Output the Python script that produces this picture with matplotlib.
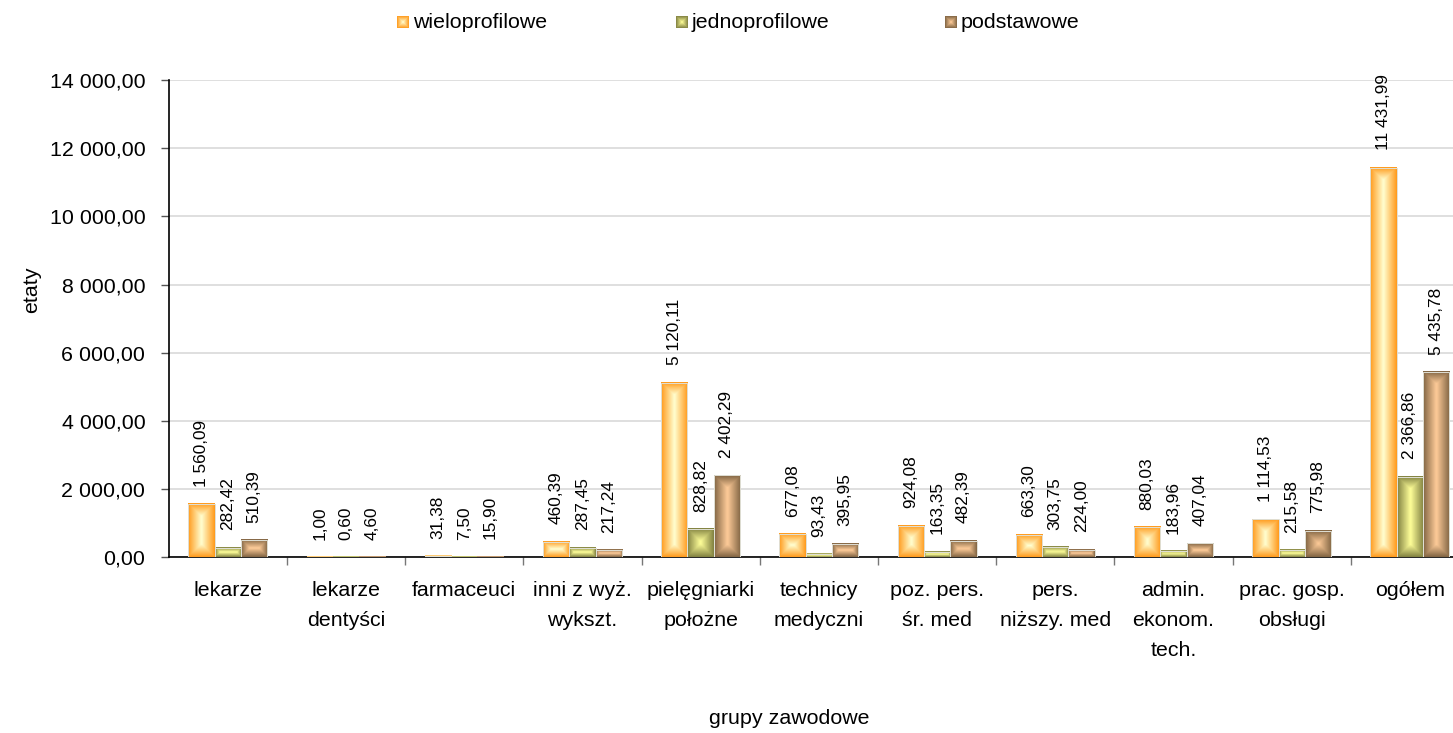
import numpy as np
import matplotlib
matplotlib.use("Agg")
import matplotlib.pyplot as plt
from matplotlib.patches import Rectangle

plt.rcParams['font.family'] = ['Liberation Sans', 'DejaVu Sans']

# grupy zawodowe i etaty
categories = ["lekarze", "lekarze\ndentyści", "farmaceuci", "inni z wyż.\nwykszt.",
              "pielęgniarki\npołożne", "technicy\nmedyczni", "poz. pers.\nśr. med",
              "pers.\nniższy. med", "admin.\nekonom.\ntech.", "prac. gosp.\nobsługi",
              "ogółem"]
wieloprofilowe = [1560.09, 1.00, 31.38, 460.39, 5120.11, 677.08, 924.08, 663.30,
                  880.03, 1114.53, 11431.99]
jednoprofilowe = [282.42, 0.60, 7.50, 287.45, 828.82, 93.43, 163.35, 303.75,
                  183.96, 215.58, 2366.86]
podstawowe = [510.39, 4.60, 15.90, 217.24, 2402.29, 395.95, 482.39, 224.00,
              407.04, 775.98, 5435.78]
series_names = ["wieloprofilowe", "jednoprofilowe", "podstawowe"]
yticks = [0, 2000, 4000, 6000, 8000, 10000, 12000, 14000]

# kolory: brzeg -> środek słupka
edge_cols = [(1.0, 0.60, 0.10), (0.50, 0.50, 0.25), (0.50, 0.39, 0.26)]
center_cols = [(1.0, 1.0, 0.82), (1.0, 1.0, 0.60), (1.0, 0.80, 0.60)]

FS = 15.4      # opisy osi, legenda
FS_LAB = 12.4  # etykiety wartości


def fmt(v):
    s = f"{v:,.2f}"
    return s.replace(",", " ").replace(".", ",")


def gradient(wpx, hpx, c_edge, c_center):
    nx = max(int(round(wpx)), 2)
    ny = max(int(round(hpx)), 2)
    x = np.arange(nx) + 0.5
    y = np.arange(ny) + 0.5
    dx = np.minimum(x, nx - x)
    dy = np.minimum(y, ny - y)
    d = np.minimum(dx[None, :], dy[:, None])
    t = np.clip(d / (min(nx, ny) / 2.0), 0, 1)
    e = np.array(c_edge)
    c = np.array(c_center)
    return e + (c - e) * t[..., None]


W, H = 1453, 733
fig = plt.figure(figsize=(W / 100, H / 100), dpi=100)
x_left, x_right = 168.7, 1469.0
y_top, y_zero = 80.0, 557.3
ax = fig.add_axes([x_left / W, (H - y_zero) / H, (x_right - x_left) / W, (y_zero - y_top) / H])

n = len(categories)
px_per_cat = (x_right - x_left) / n
px_per_val = (y_zero - y_top) / 14000

bw = 0.2225
data = [wieloprofilowe, jednoprofilowe, podstawowe]
for k, vals in enumerate(data):
    for i, v in enumerate(vals):
        x0 = i + 0.5 - 1.5 * bw + k * bw
        img = gradient(bw * px_per_cat, v * px_per_val, edge_cols[k], center_cols[k])
        ax.imshow(img, extent=[x0, x0 + bw, 0, v], aspect='auto', origin='lower',
                  interpolation='bilinear', zorder=3)
        ax.add_patch(Rectangle((x0, 0), bw, v, facecolor='none',
                               edgecolor=(0.88, 0.88, 0.84), lw=0.7, zorder=4))
        ax.annotate(fmt(v), (x0 + bw / 2, v), xytext=(0, 12.5), textcoords='offset points',
                    rotation=90, ha='center', va='bottom', fontsize=FS_LAB, zorder=5)

ax.set_xlim(0, n)
ax.set_ylim(0, 14000)

# siatka i osie
ax.set_yticks(yticks)
ax.set_yticklabels([fmt(v) for v in yticks], fontsize=FS)
ax.yaxis.grid(True, color='#d9d9d9', lw=1.2, zorder=0)
ax.set_axisbelow(True)
ax.tick_params(axis='y', direction='out', length=5.8, width=1, color='#555555', pad=11)

ax.set_xticks(np.arange(1, n))
ax.set_xticklabels([])
ax.set_xticks(np.arange(n) + 0.5, minor=True)
ax.set_xticklabels(categories, minor=True, fontsize=FS, linespacing=1.72, va='top')
ax.tick_params(axis='x', which='major', direction='out', length=6, width=1, color='#777777')
ax.tick_params(axis='x', which='minor', length=0, pad=17)

for s in ['top', 'right']:
    ax.spines[s].set_visible(False)
ax.spines['left'].set_linewidth(1.2)
ax.spines['bottom'].set_linewidth(1.2)

fig.text(32 / W, 1 - 290 / H, "etaty", rotation=90, ha='center', va='center', fontsize=FS)
fig.text(789 / W, 1 - 718 / H, "grupy zawodowe", ha='center', va='center', fontsize=FS)

# legenda
leg_x = [397, 676, 945]
for k, name in enumerate(series_names):
    lax = fig.add_axes([leg_x[k] / W, 1 - 28 / H, 12 / W, 12 / H])
    lax.imshow(gradient(12, 12, edge_cols[k], center_cols[k]), interpolation='bilinear',
               extent=[0, 1, 0, 1])
    lax.set_axis_off()
    fig.text((leg_x[k] + 16) / W, 1 - 22 / H, name, ha='left', va='center', fontsize=FS)

fig.savefig("out.png", dpi=100)
